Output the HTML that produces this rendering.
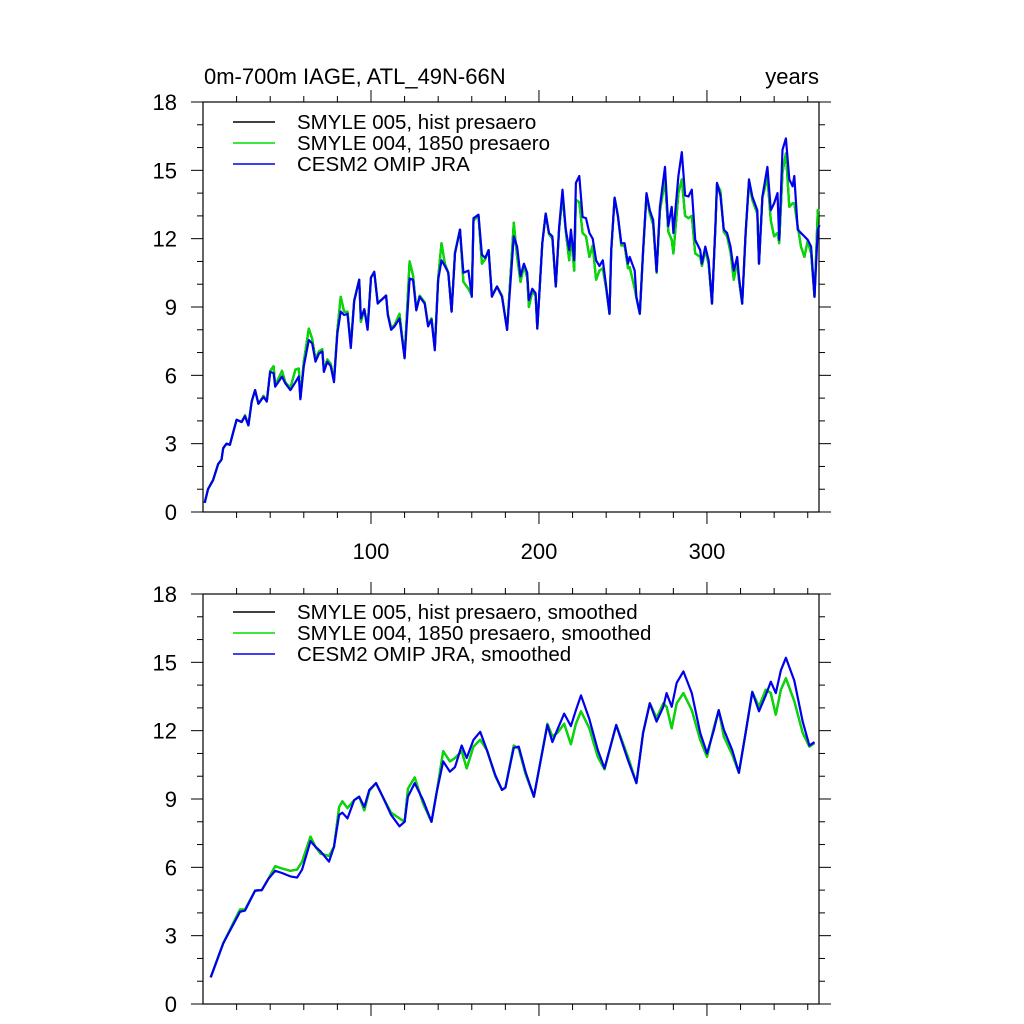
<!DOCTYPE html>
<html><head><meta charset="utf-8"><style>
html,body{margin:0;padding:0;background:#fff;}
svg{display:block;font-family:"Liberation Sans",sans-serif;}
</style></head><body>
<svg id="chart" width="1024" height="1024" viewBox="0 0 1024 1024">
<text x="204" y="84" font-size="22">0m-700m IAGE, ATL_49N-66N</text>
<text x="819" y="84" font-size="22" text-anchor="end">years</text>
<g id="top"></g>
<g id="bot"></g>
</svg>
<script>
// ---- Top panel data (raw) ----
const topYears = [1,3,6,9,11,12,14,16,18,20,23,25,27,29,31,33,36,38,40,42,43,47,49,52,55,57,58,60,63,65,67,69,71,72,74,76,78,80,82,84,86,88,90,93,94,96,98,100,102,104,106,109,110,112,114,117,120,123,125,127,129,132,134,136,138,140,142,144,146,148,150,153,155,158,160,161,164,166,168,170,172,175,178,181,185,187,189,191,193,194,196,198,199,202,204,206,208,210,212,214,216,218,219,221,222,224,226,228,230,232,234,236,238,240,242,243,245,247,249,251,253,254,257,258,260,262,264,266,268,270,272,275,277,279,280,283,285,287,289,291,293,296,297,299,301,303,305,306,308,310,312,314,316,318,319,321,323,325,327,330,331,333,336,338,340,342,343,345,347,349,351,352,354,356,358,360,362,364,366,367];
const topSmyle004 = [0.4,1.0,1.4,2.1,2.3,2.8,3.0,2.95,3.5,4.05,3.95,4.25,3.8,4.85,5.35,4.75,5.1,4.85,6.2,6.4,5.55,6.2,5.7,5.45,6.25,6.3,5.0,6.6,8.05,7.6,6.7,7.05,7.15,6.2,6.7,6.5,5.8,8.0,9.45,8.8,8.8,7.3,9.3,10.2,8.35,8.9,8.1,10.3,10.5,9.2,9.3,9.5,8.7,8.1,8.2,8.7,6.8,11.0,10.4,8.9,9.5,9.2,8.2,8.5,7.2,10.3,11.8,10.9,10.5,8.8,11.4,12.4,10.1,9.8,9.5,12.8,13.0,10.9,11.1,11.5,9.5,9.9,9.5,8.0,12.7,11.2,10.1,10.8,10.3,9.0,9.7,9.5,8.05,11.8,13.1,12.2,12.0,9.9,12.4,13.9,12.3,11.05,12.2,10.6,13.7,13.6,12.25,12.1,11.2,11.7,10.2,10.6,10.7,9.8,8.7,11.4,13.8,13.0,11.7,11.7,10.7,10.75,9.8,9.4,8.7,11.4,13.9,13.1,12.6,10.5,13.2,14.6,12.3,11.95,11.35,14.0,14.6,13.0,12.9,13.0,11.35,11.2,10.8,11.5,10.9,9.15,12.5,14.4,14.1,12.3,12.1,11.4,10.2,11.0,10.2,9.15,12.2,14.5,13.7,13.1,10.9,13.8,14.7,12.8,12.1,12.25,11.8,14.9,15.75,13.4,13.55,13.55,12.55,11.65,11.2,11.9,11.35,9.45,13.25,13.25];
const topSmyle005 = topSmyle004.map(v => v);
const topOmip = [0.4,1.0,1.4,2.1,2.3,2.8,3.0,2.95,3.5,4.05,3.95,4.2,3.8,4.85,5.35,4.75,5.05,4.85,6.15,6.1,5.5,5.95,5.65,5.35,5.7,5.95,4.95,6.4,7.55,7.4,6.6,6.95,7.05,6.15,6.6,6.4,5.7,7.85,8.8,8.65,8.7,7.2,9.25,10.2,8.5,8.9,8.0,10.3,10.55,9.15,9.3,9.5,8.65,8.0,8.15,8.5,6.75,10.25,10.2,8.85,9.45,9.15,8.15,8.45,7.1,10.2,11.05,10.8,10.5,8.8,11.35,12.4,10.5,10.6,9.45,12.9,13.05,11.3,11.15,11.5,9.45,9.9,9.45,8.0,12.1,11.65,10.35,10.9,10.5,9.3,9.8,9.6,8.05,11.8,13.1,12.25,12.1,9.9,12.5,14.15,12.4,11.5,12.4,11.05,14.45,14.75,12.95,12.9,12.25,12.0,11.05,10.8,11.05,9.9,8.7,11.5,13.8,13.0,11.8,11.8,10.9,11.2,10.6,9.45,8.7,11.5,14.0,13.25,12.8,10.55,13.4,15.15,12.55,13.4,12.25,14.75,15.8,13.9,13.85,14.15,11.95,11.5,10.9,11.65,11.05,9.15,12.55,14.45,13.9,12.4,12.25,11.65,10.6,11.2,10.35,9.15,12.25,14.6,13.85,13.25,10.9,13.85,15.15,13.25,13.55,14.0,11.95,15.9,16.4,14.6,14.3,14.75,12.4,12.25,12.1,11.95,11.65,9.45,12.4,12.6];
// ---- Bottom panel data (smoothed) ----
const botYears = [4.6,12,22,25,31,35,39,43,47,52,56,59,64,67,70,75,78,81,83,86,90,93,96,99,103,107,112,117,120,122,126,131,136,139,143,147,150,154,157,161,165,169,174,178,180,185,188,192,197,205,208,211,215,219,222,225,230,235,239,246,253,258,262,266,270,274,276,279,282,286,291,296,300,304,307,310,315,319,323,327,331,335,338,341,344,347,352,357,361,364];
const botSmyle004 = [1.17,2.66,4.15,4.15,4.98,5.0,5.5,6.05,5.95,5.85,5.9,6.25,7.35,6.9,6.6,6.5,6.9,8.65,8.9,8.6,8.95,9.1,8.5,9.35,9.7,9.1,8.4,8.15,8.0,9.45,9.95,8.8,8.0,9.25,11.1,10.65,10.8,11.1,10.35,11.3,11.6,11.15,10.0,9.4,9.5,11.35,11.2,10.1,9.1,12.3,11.75,11.9,12.3,11.4,12.3,12.85,12.1,10.85,10.3,12.25,10.85,9.7,11.9,13.2,12.55,13.2,13.05,12.1,13.2,13.65,12.9,11.6,10.85,12.1,12.9,11.75,10.95,10.15,11.9,13.7,13.05,13.8,13.65,12.7,13.8,14.3,13.3,11.9,11.3,11.45];
const botSmyle005 = botSmyle004.map(v => v);
const botOmip = [1.17,2.66,4.05,4.1,4.98,5.0,5.5,5.85,5.75,5.6,5.55,5.9,7.15,6.9,6.7,6.25,6.9,8.3,8.4,8.15,8.95,9.1,8.65,9.4,9.7,9.1,8.3,7.8,8.0,9.1,9.7,8.95,8.0,9.25,10.65,10.2,10.4,11.35,10.8,11.6,11.95,11.15,10.05,9.4,9.5,11.25,11.3,10.2,9.1,12.25,11.5,12.05,12.75,12.2,12.9,13.55,12.5,11.15,10.35,12.25,10.7,9.7,11.9,13.2,12.4,13.05,13.65,13.05,14.1,14.6,13.65,11.9,11.0,12.0,12.9,12.05,11.15,10.15,11.9,13.7,12.85,13.55,14.15,13.65,14.65,15.2,14.2,12.4,11.35,11.5];
const yTicks = [0,3,6,9,12,15,18];
const xTickLabels = [100,200,300];
const topLegend = ["SMYLE 005, hist presaero","SMYLE 004, 1850 presaero","CESM2 OMIP JRA"];
const botLegend = ["SMYLE 005, hist presaero, smoothed","SMYLE 004, 1850 presaero, smoothed","CESM2 OMIP JRA, smoothed"];

const NS = "http://www.w3.org/2000/svg";
const X0 = 203, X1 = 819, XMIN = 0, XMAX = 366.7;
function sx(v){ return X0 + (v - XMIN) / (XMAX - XMIN) * (X1 - X0); }
function mk(tag, attrs, parent){ const e = document.createElementNS(NS, tag); for (const k in attrs) e.setAttribute(k, attrs[k]); parent.appendChild(e); return e; }

function panel(g, top, bottom, years, series, legend, showXLabels, legY){
  const sy = v => bottom - v / 18 * (bottom - top);
  const frame = mk('rect', {x:X0, y:top, width:X1-X0, height:bottom-top, fill:'none', stroke:'#000', 'stroke-width':1.2}, g);
  
  
  for (let v = 0; v <= 18; v++) {
    const major = v % 3 === 0, L = major ? 12 : 6;
    mk('line', {x1:X0-L, x2:X0, y1:sy(v), y2:sy(v), stroke:'#000', 'stroke-width':1}, g);
    mk('line', {x1:X1, x2:X1+L, y1:sy(v), y2:sy(v), stroke:'#000', 'stroke-width':1}, g);
  }
  yTicks.forEach(v => {
    const t = mk('text', {x:177, y:sy(v)+8, 'font-size':22, 'text-anchor':'end'}, g);
    t.textContent = v;
    
    
  });
  for (let v = 20; v <= 360; v += 20) {
    const major = v % 100 === 0, L = major ? 12 : 6;
    mk('line', {x1:sx(v), x2:sx(v), y1:bottom, y2:bottom+L, stroke:'#000', 'stroke-width':1}, g);
    mk('line', {x1:sx(v), x2:sx(v), y1:top-L, y2:top, stroke:'#000', 'stroke-width':1}, g);
  }
  if (showXLabels) xTickLabels.forEach(v => {
    const t = mk('text', {x:sx(v), y:bottom+47, 'font-size':22, 'text-anchor':'middle'}, g);
    t.textContent = v;
    
    
  });
  const colors = ['#000000', '#00dd00', '#0000ee'];
  const names = ['smyle005-line', 'smyle004-line', 'omip-jra-line'];
  series.forEach((vals, i) => {
    const d = vals.map((v, j) => (j ? 'L' : 'M') + sx(years[j]).toFixed(1) + ',' + sy(v).toFixed(1)).join('');
    const p = mk('path', {d:d, fill:'none', stroke:colors[i], 'stroke-width':2.2, 'stroke-linejoin':'round'}, g);
    
    
    const ly = legY + i * 21;
    const ll = mk('line', {x1:233, x2:275, y1:ly, y2:ly, stroke:colors[i], 'stroke-width':1.5}, g);
    
    
    const lt = mk('text', {x:297, y:ly+7, 'font-size':20.5}, g);
    lt.textContent = legend[i];
    
    
  });
}
panel(document.getElementById('top'), 102, 512, topYears, [topSmyle005, topSmyle004, topOmip], topLegend, true, 122);
panel(document.getElementById('bot'), 594, 1004, botYears, [botSmyle005, botSmyle004, botOmip], botLegend, false, 612);
</script>
</body></html>
